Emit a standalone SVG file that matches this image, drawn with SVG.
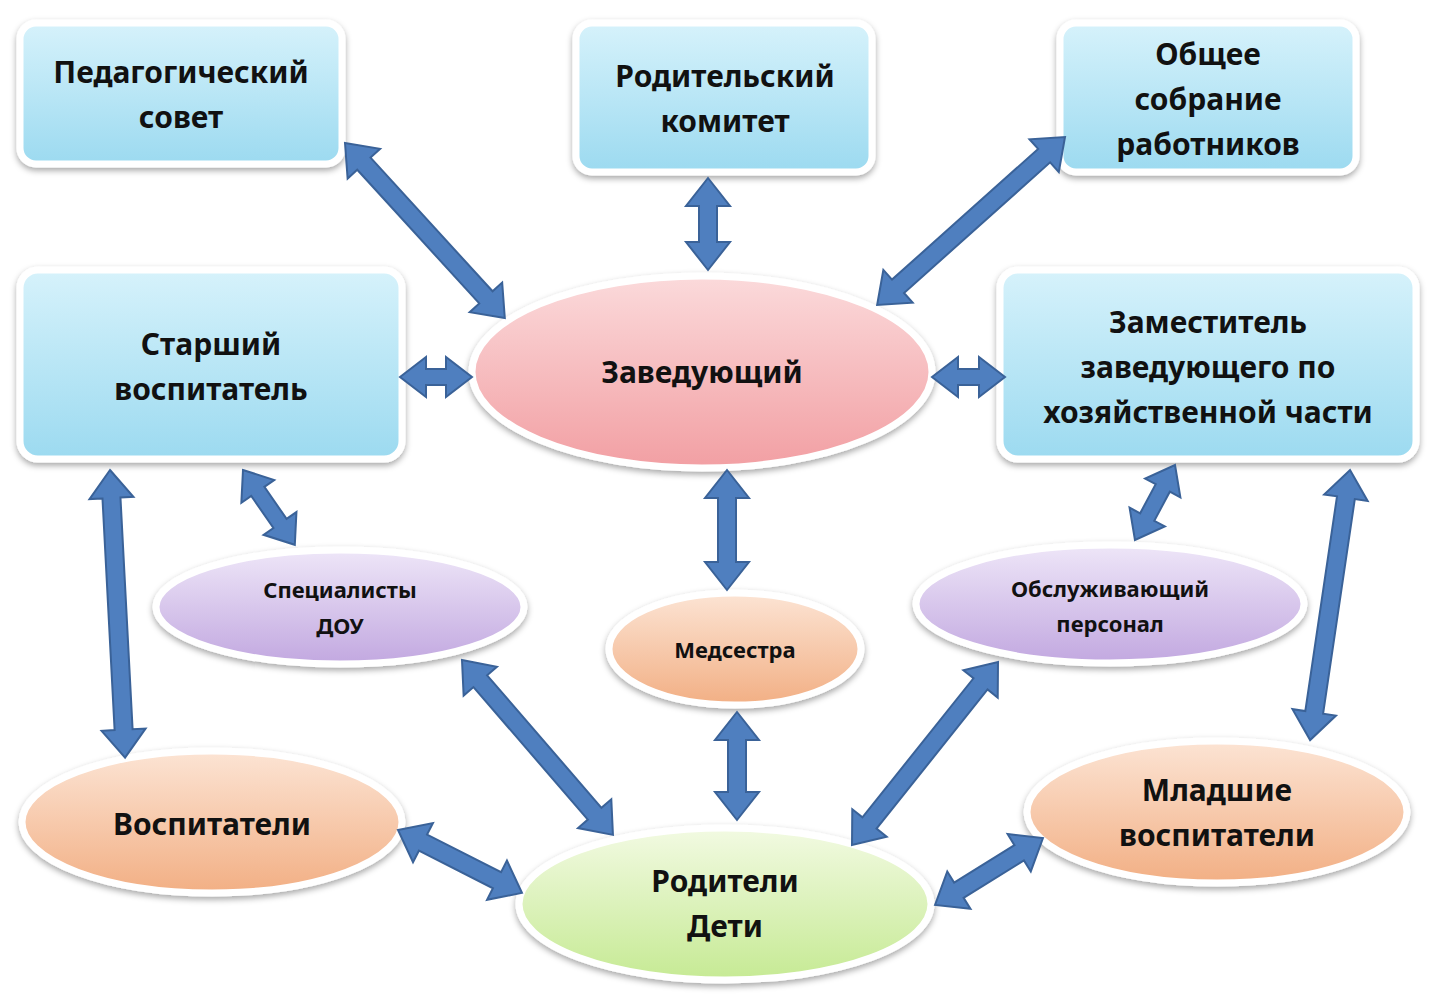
<svg xmlns="http://www.w3.org/2000/svg" width="1437" height="1003" viewBox="0 0 1437 1003">
<defs>
<linearGradient id="gb" x1="0" y1="0" x2="0" y2="1"><stop offset="0" stop-color="#D6F2FB"/><stop offset="1" stop-color="#9CDAF0"/></linearGradient>
<linearGradient id="gp" x1="0" y1="0" x2="0" y2="1"><stop offset="0" stop-color="#FBDADB"/><stop offset="1" stop-color="#F29FA3"/></linearGradient>
<linearGradient id="gv" x1="0" y1="0" x2="0" y2="1"><stop offset="0" stop-color="#EEE6F8"/><stop offset="1" stop-color="#C2A8E0"/></linearGradient>
<linearGradient id="go" x1="0" y1="0" x2="0" y2="1"><stop offset="0" stop-color="#FCE4D4"/><stop offset="1" stop-color="#F2AF84"/></linearGradient>
<linearGradient id="gg" x1="0" y1="0" x2="0" y2="1"><stop offset="0" stop-color="#F2FAE2"/><stop offset="1" stop-color="#C6EA94"/></linearGradient>
<filter id="sh" x="-10%" y="-10%" width="120%" height="130%"><feDropShadow dx="0" dy="3" stdDeviation="3" flood-color="#000" flood-opacity="0.35"/></filter>
<polygon id="a" points="0,0 28,-22 28,-9 0,-9 0,9 28,9 28,22" />
</defs>
<style>
.n{stroke:#fff;stroke-width:7;filter:url(#sh)}
.t{font-family:"Noto Sans","Open Sans",sans-serif;font-weight:bold;fill:#111;text-anchor:middle}
.L{font-size:30px}.S{font-size:22px}
.ar{fill:#4F7FBF;stroke:#3A6298;stroke-width:2}
</style>
<g id="ped"><rect class="n" x="20" y="23" width="322" height="141" rx="16" fill="url(#gb)"/><text class="t L" x="181" y="83">Педагогический</text><text class="t L" x="181" y="128">совет</text></g>
<g id="rodkom"><rect class="n" x="576" y="23" width="296" height="149" rx="16" fill="url(#gb)"/><text class="t L" x="725" y="87">Родительский</text><text class="t L" x="725" y="132">комитет</text></g>
<g id="obshee"><rect class="n" x="1060" y="23" width="296" height="149" rx="16" fill="url(#gb)"/><text class="t L" x="1208" y="65">Общее</text><text class="t L" x="1208" y="110">собрание</text><text class="t L" x="1208" y="155">работников</text></g>
<g id="starsh"><rect class="n" x="20" y="270" width="382" height="189" rx="18" fill="url(#gb)"/><text class="t L" x="211" y="355">Старший</text><text class="t L" x="211" y="400">воспитатель</text></g>
<g id="zav"><ellipse class="n" cx="702" cy="372" rx="230" ry="96" fill="url(#gp)"/><text class="t L" x="702" y="383">Заведующий</text></g>
<g id="zam"><rect class="n" x="1000" y="270" width="416" height="189" rx="18" fill="url(#gb)"/><text class="t L" x="1208" y="333">Заместитель</text><text class="t L" x="1208" y="378">заведующего по</text><text class="t L" x="1208" y="423">хозяйственной части</text></g>
<g id="spec"><ellipse class="n" cx="340" cy="607" rx="184" ry="57" fill="url(#gv)"/><text class="t S" x="340" y="598">Специалисты</text><text class="t S" x="340" y="634">ДОУ</text></g>
<g id="med"><ellipse class="n" cx="735" cy="649" rx="126" ry="56" fill="url(#go)"/><text class="t S" x="735" y="658">Медсестра</text></g>
<g id="obsl"><ellipse class="n" cx="1110" cy="604" rx="194" ry="59" fill="url(#gv)"/><text class="t S" x="1110" y="597">Обслуживающий</text><text class="t S" x="1110" y="632">персонал</text></g>
<g id="vosp"><ellipse class="n" cx="212" cy="822" rx="190" ry="71" fill="url(#go)"/><text class="t L" x="212" y="835">Воспитатели</text></g>
<g id="rod"><ellipse class="n" cx="725" cy="904" rx="206" ry="76" fill="url(#gg)"/><text class="t L" x="725" y="892">Родители</text><text class="t L" x="725" y="937">Дети</text></g>
<g id="mlad"><ellipse class="n" cx="1217" cy="812" rx="190" ry="71" fill="url(#go)"/><text class="t L" x="1217" y="801">Младшие</text><text class="t L" x="1217" y="846">воспитатели</text></g>
<g id="connectors">
<path class="ar" transform="translate(345,143) rotate(47.6)" d="M0,0 L28,-22 L28,-9 L209,-9 L209,-22 L237,0 L209,22 L209,9 L28,9 L28,22Z"/>
<path class="ar" transform="translate(708,178) rotate(90)" d="M0,0 L28,-22 L28,-9 L64,-9 L64,-22 L92,0 L64,22 L64,9 L28,9 L28,22Z"/>
<path class="ar" transform="translate(1065,137) rotate(138.2)" d="M0,0 L28,-22 L28,-9 L224,-9 L224,-22 L252,0 L224,22 L224,9 L28,9 L28,22Z"/>
<path class="ar" transform="translate(400,377) rotate(0)" d="M0,0 L26,-20 L26,-8 L46,-8 L46,-20 L72,0 L46,20 L46,8 L26,8 L26,20Z"/>
<path class="ar" transform="translate(932,377) rotate(0)" d="M0,0 L26,-20 L26,-8 L47,-8 L47,-20 L73,0 L47,20 L47,8 L26,8 L26,20Z"/>
<path class="ar" transform="translate(243,470) rotate(55.3)" d="M0,0 L26,-20 L26,-8 L65,-8 L65,-20 L91,0 L65,20 L65,8 L26,8 L26,20Z"/>
<path class="ar" transform="translate(110,470) rotate(87)" d="M0,0 L28,-22 L28,-9 L260,-9 L260,-22 L288,0 L260,22 L260,9 L28,9 L28,22Z"/>
<path class="ar" transform="translate(727,470) rotate(90)" d="M0,0 L28,-22 L28,-9 L92,-9 L92,-22 L120,0 L92,22 L92,9 L28,9 L28,22Z"/>
<path class="ar" transform="translate(1175,465) rotate(118.1)" d="M0,0 L26,-20 L26,-8 L59,-8 L59,-20 L85,0 L59,20 L59,8 L26,8 L26,20Z"/>
<path class="ar" transform="translate(1350,470) rotate(98.4)" d="M0,0 L28,-22 L28,-9 L245,-9 L245,-22 L273,0 L245,22 L245,9 L28,9 L28,22Z"/>
<path class="ar" transform="translate(462,660) rotate(49.2)" d="M0,0 L28,-22 L28,-9 L203,-9 L203,-22 L231,0 L203,22 L203,9 L28,9 L28,22Z"/>
<path class="ar" transform="translate(737,712) rotate(90)" d="M0,0 L28,-22 L28,-9 L80,-9 L80,-22 L108,0 L80,22 L80,9 L28,9 L28,22Z"/>
<path class="ar" transform="translate(998,662) rotate(128.6)" d="M0,0 L28,-22 L28,-9 L206,-9 L206,-22 L234,0 L206,22 L206,9 L28,9 L28,22Z"/>
<path class="ar" transform="translate(398,830) rotate(26.9)" d="M0,0 L28,-22 L28,-9 L111,-9 L111,-22 L139,0 L111,22 L111,9 L28,9 L28,22Z"/>
<path class="ar" transform="translate(1043,838) rotate(148.2)" d="M0,0 L28,-22 L28,-9 L99,-9 L99,-22 L127,0 L99,22 L99,9 L28,9 L28,22Z"/>
</g>
</svg>
